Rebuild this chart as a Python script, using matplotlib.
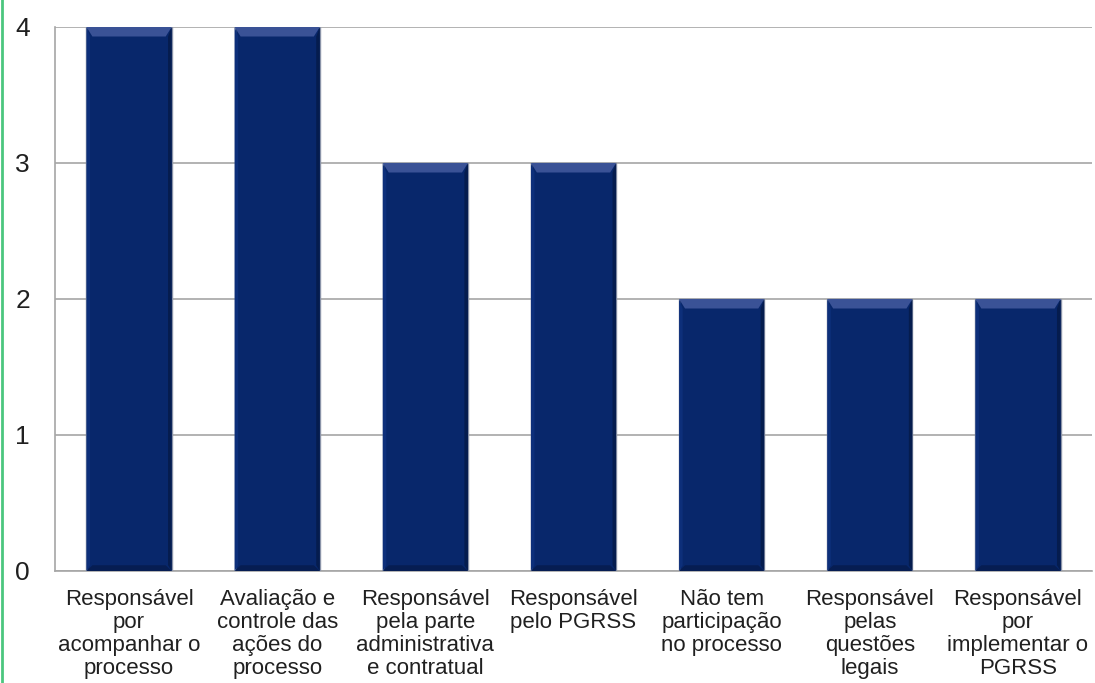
import matplotlib.pyplot as plt
from matplotlib.patches import Polygon
from matplotlib.lines import Line2D

# Participação dos responsáveis no PGRSS
categorias = [
    "Responsável\npor\nacompanhar o\nprocesso",
    "Avaliação e\ncontrole das\nações do\nprocesso",
    "Responsável\npela parte\nadministrativa\ne contratual",
    "Responsável\npelo PGRSS",
    "Não tem\nparticipação\nno processo",
    "Responsável\npelas\nquestões\nlegais",
    "Responsável\npor\nimplementar o\nPGRSS",
]
valores = [4, 4, 3, 3, 2, 2, 2]
yticks = [0, 1, 2, 3, 4]

plt.rcParams['font.family'] = ['Liberation Sans', 'DejaVu Sans']

fig = plt.figure(figsize=(10.95, 6.83), dpi=100)
ax = fig.add_axes([0.0502, 0.164, 0.9471, 0.7965])

x = range(len(categorias))
barras = ax.bar(x, valores, width=0.575, color='#08276b',
                edgecolor='#8a93a8', linewidth=1.0, zorder=3)

# bisel claro no topo e sombra na base de cada barra
bev_y = 0.07
for b in barras:
    x0, w, h = b.get_x(), b.get_width(), b.get_height()
    dx = w * 0.07
    topo = Polygon([(x0, h), (x0 + w, h), (x0 + w - dx, h - bev_y), (x0 + dx, h - bev_y)],
                   closed=True, facecolor='#3a5296', edgecolor='none', zorder=4)
    base = Polygon([(x0, 0), (x0 + w, 0), (x0 + w - dx, bev_y * 0.6), (x0 + dx, bev_y * 0.6)],
                   closed=True, facecolor='#061d52', edgecolor='none', zorder=4)
    esq = Polygon([(x0, 0), (x0 + dx * 0.6, bev_y * 0.6), (x0 + dx * 0.6, h - bev_y), (x0, h)],
                  closed=True, facecolor='#0d2f7a', edgecolor='none', zorder=4)
    dirt = Polygon([(x0 + w, 0), (x0 + w - dx * 0.6, bev_y * 0.6), (x0 + w - dx * 0.6, h - bev_y), (x0 + w, h)],
                   closed=True, facecolor='#051c4e', edgecolor='none', zorder=4)
    for p in (topo, base, esq, dirt):
        ax.add_patch(p)

ax.set_xlim(-0.5, len(categorias) - 0.5)
ax.set_ylim(0, 4)
ax.set_yticks(yticks)
ax.set_yticklabels([str(v) for v in yticks], fontsize=19, color='#202020')
ax.set_xticks(list(x))
ax.set_xticklabels(categorias, fontsize=16, color='#202020', linespacing=1.13, va='top')
ax.tick_params(axis='y', length=0, pad=18)
ax.tick_params(axis='x', length=0, pad=13)

ax.grid(axis='y', color='#a6a6a6', linewidth=1.2, zorder=0)
for s in ('top', 'right'):
    ax.spines[s].set_visible(False)
ax.spines['left'].set_color('#a6a6a6')
ax.spines['left'].set_linewidth(1.2)
ax.spines['bottom'].set_color('#a6a6a6')
ax.spines['bottom'].set_linewidth(1.2)

# borda verde à esquerda
fig.add_artist(Line2D([0.002, 0.002], [0, 1], transform=fig.transFigure,
                      color='#4cc67e', linewidth=2))

fig.savefig('out.png', dpi=100)
